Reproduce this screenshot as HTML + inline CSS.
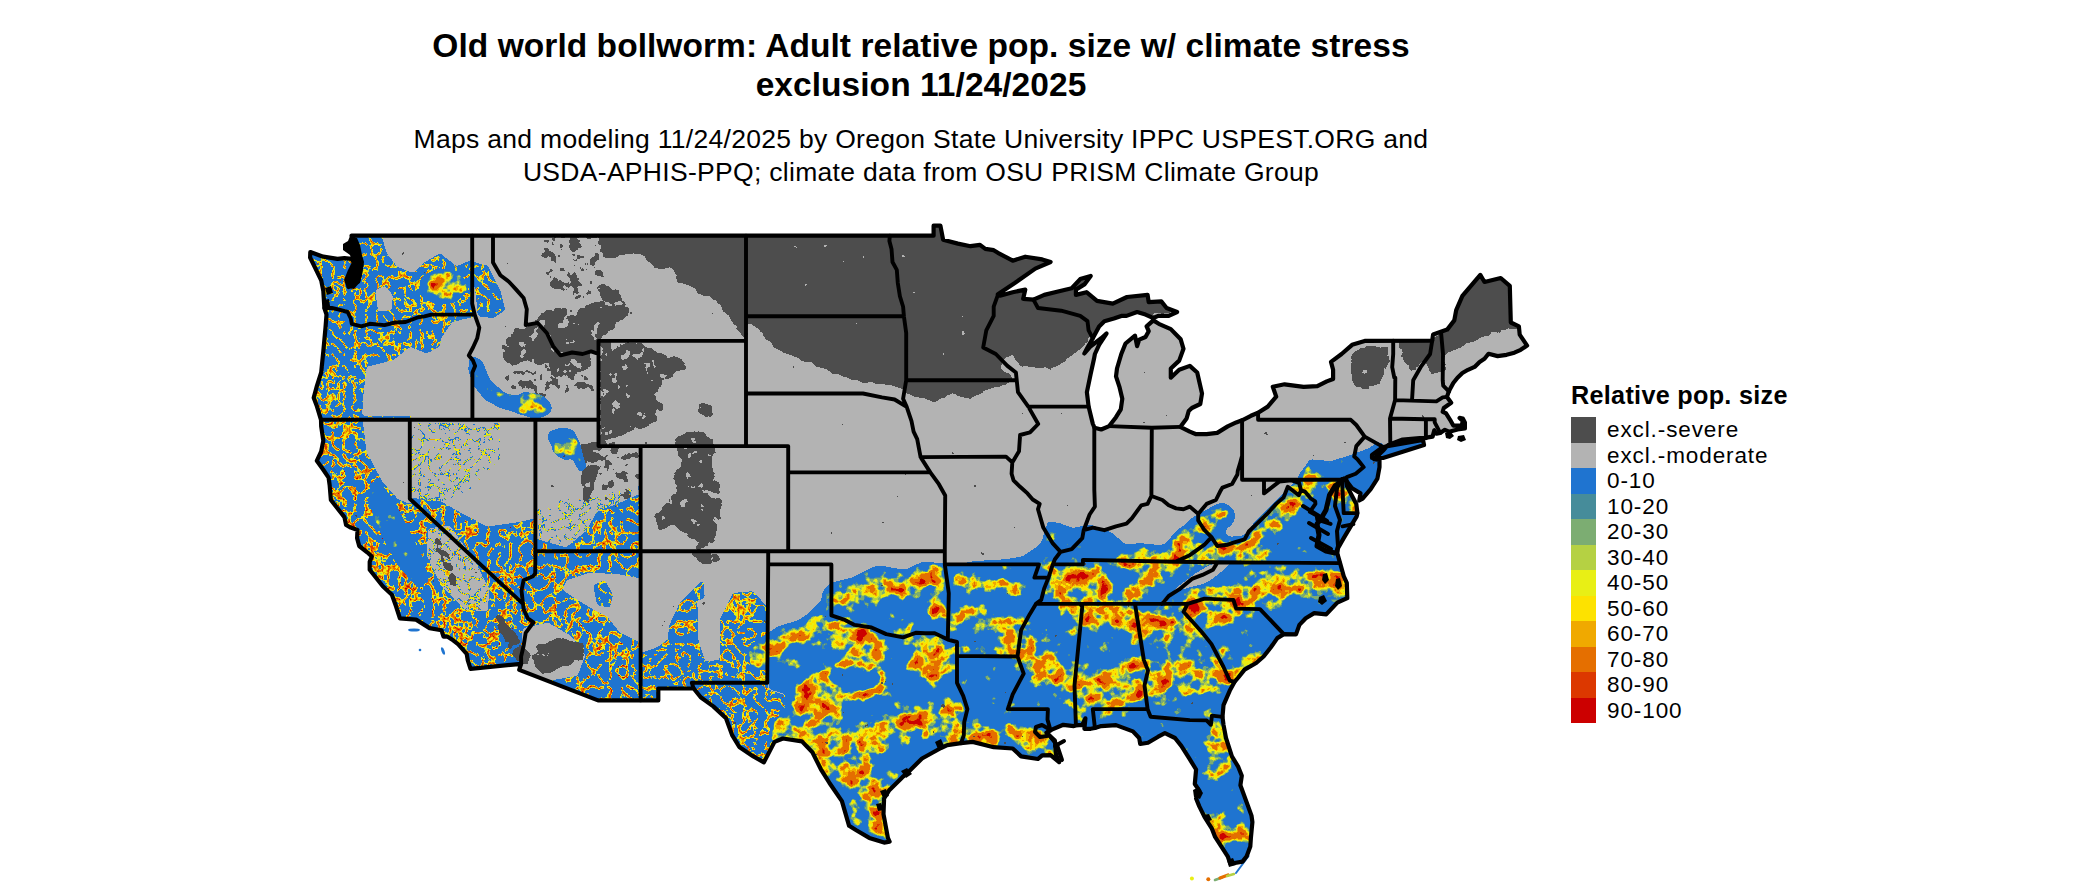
<!DOCTYPE html>
<html><head><meta charset="utf-8"><title>Old world bollworm</title>
<style>
html,body{margin:0;padding:0;background:#fff;}
body{width:2100px;height:892px;overflow:hidden;position:relative;font-family:"Liberation Sans",sans-serif;color:#000}
.t{position:absolute;left:121px;width:1600px;text-align:center;white-space:nowrap}
.t1{top:25.6px;font-size:33.5px;line-height:39.8px;font-weight:bold;letter-spacing:0.05px}
.t2{top:123.0px;font-size:26.5px;line-height:32.7px;letter-spacing:0.3px}
.lt{position:absolute;left:1607px;height:25.5px;line-height:25.5px;font-size:22.5px;letter-spacing:0.9px;white-space:nowrap}
.lh{position:absolute;left:1571px;top:379.5px;font-size:25.2px;line-height:30px;font-weight:bold;white-space:nowrap;letter-spacing:0.3px}
</style></head><body>
<div class="t t1">Old world bollworm: Adult relative pop. size w/ climate stress<br>exclusion 11/24/2025</div>
<div class="t t2">Maps and modeling 11/24/2025 by Oregon State University IPPC USPEST.ORG and<br>USDA-APHIS-PPQ; climate data from OSU PRISM Climate Group</div>
<svg width="2100" height="892" viewBox="0 0 2100 892" style="position:absolute;left:0;top:0">
<defs>
<clipPath id="land"><path d="M351.6,235.7 L933.6,235.7 L933.6,225.7 L940.4,225.7 L943.1,239.7 L957.9,243.6 L970.5,246.2 L980.0,244.9 L985.3,248.9 L993.7,250.2 L997.9,252.8 L1012.7,260.7 L1025.3,256.7 L1042.2,259.4 L1050.6,262.0 L1035.3,268.6 L1014.8,283.0 L997.9,294.3 L1000.0,295.7 L1012.7,292.2 L1025.3,289.6 L1023.2,298.8 L1033.4,299.6 L1044.3,294.9 L1057.0,291.7 L1071.7,288.3 L1080.2,279.1 L1090.7,275.9 L1084.4,284.4 L1075.9,289.6 L1075.9,294.9 L1086.5,292.2 L1097.0,300.9 L1112.8,303.6 L1127.0,297.0 L1147.6,294.9 L1148.7,302.2 L1161.3,301.4 L1166.6,308.0 L1177.1,312.0 L1168.7,315.9 L1158.2,315.9 L1153.3,318.0 L1145.5,314.6 L1137.1,312.0 L1126.5,315.9 L1121.3,315.9 L1113.9,318.5 L1104.4,321.2 L1099.1,326.4 L1092.8,338.3 L1087.5,347.5 L1084.4,353.5 L1090.7,346.2 L1101.2,338.3 L1106.5,333.5 L1099.1,344.8 L1094.9,354.0 L1093.9,359.3 L1090.7,373.8 L1086.9,392.2 L1088.6,406.6 L1092.8,423.7 L1094.5,427.7 L1101.2,429.5 L1109.2,426.1 L1116.0,417.2 L1120.8,409.3 L1122.3,398.7 L1119.6,387.4 L1116.0,376.4 L1117.0,368.5 L1121.3,354.0 L1125.5,343.5 L1135.0,335.6 L1137.1,346.2 L1139.2,339.6 L1145.5,337.0 L1148.7,331.2 L1146.6,326.4 L1153.3,320.4 L1158.8,323.8 L1170.8,329.1 L1180.7,339.3 L1183.5,348.8 L1179.2,360.6 L1170.8,368.5 L1170.8,377.7 L1179.2,369.8 L1189.8,365.9 L1197.2,372.5 L1202.0,393.5 L1200.3,404.0 L1191.9,408.0 L1188.7,411.1 L1186.6,418.5 L1180.3,426.9 L1189.8,431.6 L1196.1,434.2 L1206.6,434.2 L1217.2,432.9 L1227.7,426.4 L1236.2,422.4 L1242.1,420.3 L1250.9,415.8 L1258.1,412.7 L1267.8,406.6 L1276.2,396.6 L1272.8,386.7 L1284.6,384.3 L1303.6,386.9 L1317.3,386.1 L1326.8,381.4 L1333.1,379.0 L1333.1,369.8 L1331.0,361.9 L1341.6,354.0 L1352.1,344.8 L1364.7,340.9 L1432.2,340.6 L1433.1,334.6 L1447.2,329.6 L1454.3,320.4 L1456.2,310.1 L1462.4,295.9 L1480.3,274.9 L1484.5,282.0 L1500.7,278.0 L1509.8,285.9 L1510.8,322.5 L1518.9,326.4 L1519.7,334.6 L1527.1,345.6 L1520.7,349.8 L1514.4,352.7 L1506.6,354.8 L1497.6,356.1 L1488.5,353.8 L1484.5,358.8 L1479.6,361.9 L1474.6,366.9 L1468.0,369.8 L1462.4,373.0 L1457.5,377.7 L1453.3,383.0 L1448.7,391.6 L1447.0,396.9 L1451.2,402.7 L1443.8,408.0 L1442.7,411.9 L1445.9,413.2 L1450.1,419.8 L1453.3,425.6 L1461.7,425.6 L1462.8,421.1 L1459.6,417.9 L1462.8,418.5 L1464.9,422.4 L1464.9,428.5 L1457.5,429.5 L1450.1,431.6 L1450.1,432.1 L1444.9,429.8 L1440.2,432.9 L1436.4,433.7 L1434.3,430.3 L1432.6,436.6 L1424.6,437.9 L1419.6,438.2 L1402.7,439.5 L1392.2,443.5 L1386.9,446.1 L1383.7,450.0 L1379.5,454.0 L1374.2,459.2 L1379.5,460.0 L1379.5,467.1 L1377.4,478.7 L1370.7,489.2 L1362.6,498.7 L1359.3,500.5 L1360.5,493.4 L1352.1,488.2 L1347.9,482.9 L1345.8,479.0 L1346.8,485.5 L1350.0,492.1 L1356.3,503.9 L1357.4,513.1 L1356.7,516.3 L1350.4,526.8 L1343.7,538.1 L1338.0,548.1 L1337.3,553.1 L1337.8,555.2 L1340.1,563.1 L1343.7,576.0 L1346.8,582.8 L1347.3,598.1 L1337.3,602.6 L1326.2,614.4 L1314.2,613.1 L1305.7,618.3 L1299.4,624.9 L1296.0,634.4 L1283.8,634.1 L1277.3,638.1 L1270.9,647.3 L1263.6,656.5 L1256.2,663.0 L1244.6,669.6 L1238.3,677.5 L1234.5,682.0 L1229.8,690.6 L1223.5,705.1 L1222.5,716.9 L1223.5,724.8 L1226.0,738.0 L1231.9,756.4 L1238.3,766.9 L1241.8,775.8 L1240.4,785.3 L1246.7,802.4 L1251.5,815.6 L1252.4,822.1 L1250.9,837.9 L1250.3,846.6 L1246.7,856.3 L1242.5,861.6 L1230.3,863.7 L1227.7,856.3 L1215.1,836.9 L1211.9,828.7 L1204.5,816.9 L1199.3,806.4 L1196.1,798.5 L1199.3,790.6 L1194.8,784.0 L1196.1,769.5 L1189.1,758.2 L1181.3,745.9 L1175.0,738.0 L1164.9,733.2 L1158.2,736.7 L1148.0,742.7 L1140.2,744.0 L1139.2,738.0 L1132.9,731.4 L1116.0,725.1 L1101.2,726.1 L1094.9,728.0 L1090.7,728.8 L1084.4,728.8 L1085.4,718.3 L1082.3,724.8 L1075.9,725.4 L1073.8,726.1 L1063.3,724.8 L1050.6,730.1 L1046.4,732.7 L1054.9,740.6 L1055.9,753.8 L1059.1,762.2 L1050.6,755.1 L1042.2,755.3 L1038.0,759.0 L1021.1,756.4 L1012.7,748.5 L993.7,747.2 L972.6,741.9 L961.0,743.2 L947.3,745.1 L941.0,748.0 L922.0,758.5 L908.1,772.2 L902.2,777.4 L889.0,790.6 L884.1,798.5 L883.5,814.2 L887.9,837.9 L889.6,841.6 L884.1,842.6 L869.3,837.9 L856.7,830.5 L849.1,825.8 L841.9,801.1 L829.3,782.7 L820.9,769.3 L812.4,752.2 L801.9,741.4 L782.9,738.5 L774.5,741.9 L763.9,762.4 L753.4,756.4 L739.3,746.9 L732.3,735.4 L726.0,718.3 L713.3,706.4 L700.7,697.2 L693.7,688.5 L658.3,688.5 L658.3,700.4 L598.0,700.4 L519.2,669.9 L521.1,663.8 L470.5,668.8 L467.8,660.4 L466.7,653.8 L458.3,644.4 L451.9,639.4 L447.7,636.7 L443.5,636.7 L441.4,630.2 L429.6,628.1 L416.1,619.6 L399.9,618.3 L396.1,606.5 L391.9,594.7 L382.8,586.2 L369.7,569.7 L369.7,561.8 L371.8,556.5 L367.2,552.3 L359.2,546.0 L357.1,538.1 L357.5,530.0 L350.8,527.6 L346.1,525.0 L344.4,517.1 L330.9,500.0 L329.7,485.5 L328.6,477.6 L323.3,469.8 L316.8,460.8 L321.2,451.3 L323.3,440.8 L321.2,426.4 L321.0,419.8 L317.0,406.6 L313.7,397.7 L317.0,385.6 L321.2,372.5 L323.3,351.4 L325.5,327.7 L326.5,314.6 L324.4,308.0 L323.3,290.9 L321.2,280.4 L314.9,267.3 L310.1,257.5 L310.3,252.0 L319.1,255.2 L323.3,256.7 L337.5,258.8 L344.4,258.1 L351.6,258.8 L355.0,264.6 L357.1,272.5 L355.0,280.4 L348.6,287.0 L358.1,281.7 L360.2,272.5 L361.3,264.6 L357.1,254.1 L355.0,242.3Z M1372.0,455.0 L1383.0,447.0 L1423.0,440.0 L1424.0,445.0 L1383.0,458.0 L1372.0,458.0Z"/></clipPath>
<filter id="fw" x="0" y="0" width="2100" height="892" filterUnits="userSpaceOnUse" color-interpolation-filters="sRGB">
 <feGaussianBlur in="SourceGraphic" stdDeviation="1.4" result="b"/>
 <feColorMatrix in="b" type="matrix" values="0 0 0 0 0  0 0 0 0 0  0 0 0 0 0  1 0 0 0 0" result="ba"/>
 <feComponentTransfer in="ba" result="mask"><feFuncA type="discrete" tableValues="0 0 0 1 1 1 1 1 1 1 1 1 1 1 1 1 1 1 1 1"/></feComponentTransfer>
 <feTurbulence type="turbulence" baseFrequency="0.09" numOctaves="2" seed="3" result="n"/>
 <feColorMatrix in="n" type="matrix" values="-1 0 0 0 1  -1 0 0 0 1  -1 0 0 0 1  0 0 0 0 1" result="n1"/>
 <feComposite in="b" in2="n1" operator="arithmetic" k1="0" k2="1" k3="2.2" k4="-1.6500000000000001" result="s"/>
 <feColorMatrix in="s" type="matrix" values="1 0 0 0 0  1 0 0 0 0  1 0 0 0 0  0 0 0 0 1" result="s2"/>
 <feComponentTransfer in="s2" result="c">
  <feFuncR type="discrete" tableValues="0.122 0.122 0.122 0.122 0.122 0.122 0.122 0.122 0.122 0.122 0.122 0.122 0.122 0.122 0.122 0.122 0.122 0.122 0.122 0.122 0.122 0.122 0.122 0.122 0.122 0.122 0.122 0.122 0.122 0.122 0.122 0.122 0.122 0.122 0.122 0.122 0.122 0.122 0.122 0.122 0.122 0.122 0.710 0.710 0.710 0.910 0.910 0.910 0.910 0.910 0.992 0.992 0.992 0.992 0.941 0.941 0.941 0.941 0.941 0.898 0.898 0.898 0.898 0.898 0.898 0.898 0.898 0.863 0.863 0.863 0.863 0.863 0.863 0.863 0.800 0.800 0.800 0.800 0.800 0.800"/>
  <feFuncG type="discrete" tableValues="0.455 0.455 0.455 0.455 0.455 0.455 0.455 0.455 0.455 0.455 0.455 0.455 0.455 0.455 0.455 0.455 0.455 0.455 0.455 0.455 0.455 0.455 0.455 0.455 0.455 0.455 0.455 0.455 0.455 0.455 0.455 0.455 0.455 0.455 0.455 0.455 0.455 0.455 0.455 0.455 0.455 0.455 0.820 0.820 0.820 0.937 0.937 0.937 0.937 0.937 0.886 0.886 0.886 0.886 0.663 0.663 0.663 0.663 0.663 0.435 0.435 0.435 0.435 0.435 0.435 0.435 0.435 0.220 0.220 0.220 0.220 0.220 0.220 0.220 0.000 0.000 0.000 0.000 0.000 0.000"/>
  <feFuncB type="discrete" tableValues="0.816 0.816 0.816 0.816 0.816 0.816 0.816 0.816 0.816 0.816 0.816 0.816 0.816 0.816 0.816 0.816 0.816 0.816 0.816 0.816 0.816 0.816 0.816 0.816 0.816 0.816 0.816 0.816 0.816 0.816 0.816 0.816 0.816 0.816 0.816 0.816 0.816 0.816 0.816 0.816 0.816 0.816 0.263 0.263 0.263 0.082 0.082 0.082 0.082 0.082 0.000 0.000 0.000 0.000 0.000 0.000 0.000 0.000 0.000 0.000 0.000 0.000 0.000 0.000 0.000 0.000 0.000 0.000 0.000 0.000 0.000 0.000 0.000 0.000 0.000 0.000 0.000 0.000 0.000 0.000"/>
 </feComponentTransfer>
 <feComposite in="c" in2="mask" operator="in"/>
</filter><filter id="fsp" x="0" y="0" width="2100" height="892" filterUnits="userSpaceOnUse" color-interpolation-filters="sRGB">
 <feGaussianBlur in="SourceGraphic" stdDeviation="1.4" result="b"/>
 <feTurbulence type="turbulence" baseFrequency="0.1" numOctaves="2" seed="8" result="n"/>
 <feColorMatrix in="n" type="matrix" values="-1 0 0 0 1  -1 0 0 0 1  -1 0 0 0 1  0 0 0 0 1" result="n1"/>
 <feComposite in="b" in2="n1" operator="arithmetic" k1="0" k2="1" k3="2.2" k4="-1.6500000000000001" result="s"/>
 <feColorMatrix in="s" type="matrix" values="1 0 0 0 0  1 0 0 0 0  1 0 0 0 0  1 0 0 0 0" result="s2"/>
 <feComponentTransfer in="s2" result="c">
  <feFuncR type="discrete" tableValues="0.122 0.122 0.122 0.122 0.122 0.122 0.122 0.122 0.122 0.122 0.122 0.122 0.122 0.122 0.122 0.122 0.122 0.122 0.122 0.122 0.122 0.122 0.122 0.122 0.122 0.122 0.122 0.122 0.122 0.122 0.122 0.122 0.122 0.122 0.122 0.122 0.122 0.122 0.122 0.122 0.122 0.122 0.710 0.710 0.710 0.910 0.910 0.910 0.910 0.910 0.992 0.992 0.992 0.992 0.941 0.941 0.941 0.941 0.941 0.898 0.898 0.898 0.898 0.898 0.898 0.898 0.898 0.863 0.863 0.863 0.863 0.863 0.863 0.863 0.800 0.800 0.800 0.800 0.800 0.800"/>
  <feFuncG type="discrete" tableValues="0.455 0.455 0.455 0.455 0.455 0.455 0.455 0.455 0.455 0.455 0.455 0.455 0.455 0.455 0.455 0.455 0.455 0.455 0.455 0.455 0.455 0.455 0.455 0.455 0.455 0.455 0.455 0.455 0.455 0.455 0.455 0.455 0.455 0.455 0.455 0.455 0.455 0.455 0.455 0.455 0.455 0.455 0.820 0.820 0.820 0.937 0.937 0.937 0.937 0.937 0.886 0.886 0.886 0.886 0.663 0.663 0.663 0.663 0.663 0.435 0.435 0.435 0.435 0.435 0.435 0.435 0.435 0.220 0.220 0.220 0.220 0.220 0.220 0.220 0.000 0.000 0.000 0.000 0.000 0.000"/>
  <feFuncB type="discrete" tableValues="0.816 0.816 0.816 0.816 0.816 0.816 0.816 0.816 0.816 0.816 0.816 0.816 0.816 0.816 0.816 0.816 0.816 0.816 0.816 0.816 0.816 0.816 0.816 0.816 0.816 0.816 0.816 0.816 0.816 0.816 0.816 0.816 0.816 0.816 0.816 0.816 0.816 0.816 0.816 0.816 0.816 0.816 0.263 0.263 0.263 0.082 0.082 0.082 0.082 0.082 0.000 0.000 0.000 0.000 0.000 0.000 0.000 0.000 0.000 0.000 0.000 0.000 0.000 0.000 0.000 0.000 0.000 0.000 0.000 0.000 0.000 0.000 0.000 0.000 0.000 0.000 0.000 0.000 0.000 0.000"/>
  <feFuncA type="discrete" tableValues="0 0 0 0 0 0 0 0 0 0 0 0 0 0 0 0 0 1 1 1 1 1 1 1 1 1 1 1 1 1 1 1 1 1 1 1 1 1 1 1"/>
 </feComponentTransfer>
 <feColorMatrix in="b" type="matrix" values="0 0 0 0 0  0 0 0 0 0  0 0 0 0 0  1 0 0 0 0" result="ba"/>
 <feComponentTransfer in="ba" result="mask"><feFuncA type="discrete" tableValues="0 0 1 1 1 1 1 1 1 1 1 1 1 1 1 1 1 1 1 1"/></feComponentTransfer>
 <feComposite in="c" in2="mask" operator="in"/>
</filter><filter id="fs" x="0" y="0" width="2100" height="892" filterUnits="userSpaceOnUse" color-interpolation-filters="sRGB">
 <feGaussianBlur in="SourceGraphic" stdDeviation="2.2" result="b"/>
 <feColorMatrix in="b" type="matrix" values="0 0 0 0 0  0 0 0 0 0  0 0 0 0 0  1 0 0 0 0" result="ba"/>
 <feComponentTransfer in="ba" result="mask"><feFuncA type="discrete" tableValues="0 0 0 1 1 1 1 1 1 1 1 1 1 1 1 1 1 1 1 1"/></feComponentTransfer>
 <feTurbulence type="fractalNoise" baseFrequency="0.07" numOctaves="3" seed="11" result="n"/>
 <feColorMatrix in="n" type="matrix" values="1 0 0 0 0  1 0 0 0 0  1 0 0 0 0  0 0 0 0 1" result="n1"/>
 <feComposite in="b" in2="n1" operator="arithmetic" k1="0" k2="1" k3="1.2" k4="-0.6" result="s"/>
 <feColorMatrix in="s" type="matrix" values="1 0 0 0 0  1 0 0 0 0  1 0 0 0 0  0 0 0 0 1" result="s2"/>
 <feComponentTransfer in="s2" result="c">
  <feFuncR type="discrete" tableValues="0.122 0.122 0.122 0.122 0.122 0.122 0.122 0.122 0.122 0.122 0.122 0.122 0.122 0.122 0.122 0.122 0.122 0.122 0.122 0.122 0.122 0.122 0.122 0.122 0.122 0.122 0.122 0.122 0.122 0.122 0.122 0.122 0.122 0.122 0.122 0.122 0.122 0.122 0.122 0.275 0.275 0.275 0.486 0.486 0.486 0.486 0.710 0.710 0.710 0.910 0.910 0.910 0.910 0.992 0.992 0.992 0.992 0.941 0.941 0.941 0.941 0.898 0.898 0.898 0.898 0.898 0.898 0.898 0.898 0.898 0.898 0.898 0.898 0.898 0.898 0.898 0.863 0.863 0.863 0.800"/>
  <feFuncG type="discrete" tableValues="0.455 0.455 0.455 0.455 0.455 0.455 0.455 0.455 0.455 0.455 0.455 0.455 0.455 0.455 0.455 0.455 0.455 0.455 0.455 0.455 0.455 0.455 0.455 0.455 0.455 0.455 0.455 0.455 0.455 0.455 0.455 0.455 0.455 0.455 0.455 0.455 0.455 0.455 0.455 0.549 0.549 0.549 0.678 0.678 0.678 0.678 0.820 0.820 0.820 0.937 0.937 0.937 0.937 0.886 0.886 0.886 0.886 0.663 0.663 0.663 0.663 0.435 0.435 0.435 0.435 0.435 0.435 0.435 0.435 0.435 0.435 0.435 0.435 0.435 0.435 0.435 0.220 0.220 0.220 0.000"/>
  <feFuncB type="discrete" tableValues="0.816 0.816 0.816 0.816 0.816 0.816 0.816 0.816 0.816 0.816 0.816 0.816 0.816 0.816 0.816 0.816 0.816 0.816 0.816 0.816 0.816 0.816 0.816 0.816 0.816 0.816 0.816 0.816 0.816 0.816 0.816 0.816 0.816 0.816 0.816 0.816 0.816 0.816 0.816 0.604 0.604 0.604 0.447 0.447 0.447 0.447 0.263 0.263 0.263 0.082 0.082 0.082 0.082 0.000 0.000 0.000 0.000 0.000 0.000 0.000 0.000 0.000 0.000 0.000 0.000 0.000 0.000 0.000 0.000 0.000 0.000 0.000 0.000 0.000 0.000 0.000 0.000 0.000 0.000 0.000"/>
 </feComponentTransfer>
 <feComposite in="c" in2="mask" operator="in"/>
</filter><filter id="fd" x="0" y="0" width="2100" height="892" filterUnits="userSpaceOnUse" color-interpolation-filters="sRGB">
 <feGaussianBlur in="SourceGraphic" stdDeviation="1.5" result="b"/>
 <feTurbulence type="fractalNoise" baseFrequency="0.1" numOctaves="3" seed="5" result="n"/>
 <feColorMatrix in="n" type="matrix" values="1 0 0 0 0  1 0 0 0 0  1 0 0 0 0  0 0 0 0 1" result="n1"/>
 <feComposite in="b" in2="n1" operator="arithmetic" k1="0" k2="1" k3="1.4" k4="-0.7" result="s"/>
 <feColorMatrix in="s" type="matrix" values="0 0 0 0 0.302  0 0 0 0 0.302  0 0 0 0 0.302  1 0 0 0 0" result="s2"/>
 <feComponentTransfer in="s2"><feFuncA type="discrete" tableValues="0 0 0 0 0 0 0 0 0 0 1 1 1 1 1 1 1 1 1 1"/></feComponentTransfer>
</filter>
</defs>
<g clip-path="url(#land)">
 <rect x="0" y="0" width="2100" height="892" fill="#b3b3b3"/>
 <g filter="url(#fd)"><rect x="0" y="0" width="2100" height="892" fill="#000"/><path d="M540.0,200.0 L561.0,237.0 L578.0,257.0 L598.0,259.0 L613.0,257.0 L630.0,252.0 L645.0,257.0 L657.0,269.0 L672.0,267.0 L677.0,282.0 L687.0,284.0 L701.0,294.0 L711.0,297.0 L719.0,306.0 L729.0,316.0 L736.0,328.0 L745.0,338.0 L748.0,322.0 L760.0,330.0 L773.0,347.0 L793.0,357.0 L810.0,363.0 L827.0,370.0 L847.0,378.0 L867.0,383.0 L887.0,383.0 L903.0,390.0 L917.0,397.0 L933.0,402.0 L953.0,393.0 L967.0,400.0 L983.0,390.0 L1000.0,387.0 L1015.0,380.0 L1000.0,367.0 L1005.0,360.0 L1013.0,353.0 L1020.0,367.0 L1033.0,367.0 L1053.0,370.0 L1067.0,360.0 L1083.0,347.0 L1090.0,337.0 L1110.0,318.0 L1140.0,316.0 L1180.0,312.0 L1180.0,200.0Z" fill="rgb(255,255,255)"/><path d="M1520.0,327.0 L1503.0,330.0 L1483.0,337.0 L1460.0,347.0 L1443.0,357.0 L1446.0,370.0 L1432.0,375.0 L1425.0,362.0 L1428.0,345.0 L1440.0,335.0 L1450.0,260.0 L1540.0,260.0 L1540.0,320.0Z" fill="rgb(255,255,255)"/><path d="M1398.0,340.0 L1430.0,340.0 L1425.0,360.0 L1412.0,372.0 L1404.0,365.0 L1400.0,352.0Z" fill="rgb(217,217,217)"/><path d="M1352.0,352.0 L1368.0,345.0 L1388.0,347.0 L1390.0,360.0 L1382.0,380.0 L1368.0,390.0 L1355.0,385.0 L1350.0,368.0Z" fill="rgb(217,217,217)"/><path d="M499.9,346.6 L509.9,330.0 L526.5,326.6 L539.8,316.6 L553.2,306.6 L573.2,310.0 L593.1,303.3 L619.8,296.6 L633.1,313.3 L616.5,326.6 L599.8,339.9 L593.1,353.2 L589.8,366.6 L579.8,379.9 L559.8,373.2 L553.2,383.2 L539.8,366.6 L526.5,359.9 L513.2,366.6 L503.2,359.9Z" fill="rgb(184,184,184)"/><path d="M593.0,292.0 L605.0,285.0 L620.0,290.0 L622.0,302.0 L605.0,304.0Z" fill="rgb(184,184,184)"/><path d="M599.6,341.2 L636.1,342.6 L650.1,346.8 L664.1,355.2 L683.7,358.0 L686.5,369.2 L672.5,374.8 L664.1,386.1 L652.9,394.5 L664.1,405.7 L655.7,422.5 L636.1,430.9 L622.0,436.5 L599.6,442.1Z" fill="rgb(184,184,184)"/><path d="M697.0,403.0 L712.0,400.0 L715.0,415.0 L705.0,420.0 L697.0,412.0Z" fill="rgb(184,184,184)"/><path d="M582.0,445.0 L600.0,440.0 L630.0,445.0 L640.0,450.0 L640.0,462.0 L615.0,465.0 L598.0,470.0 L592.0,500.0 L585.0,505.0 L580.0,480.0Z" fill="rgb(184,184,184)"/><path d="M672.5,433.7 L703.3,430.9 L714.5,442.1 L714.5,470.1 L722.9,498.2 L720.1,520.6 L714.5,543.0 L697.7,551.4 L689.3,537.4 L672.5,526.2 L658.5,531.8 L655.7,515.0 L669.7,498.2 L672.5,475.7 L680.9,458.9 L675.3,447.7Z" fill="rgb(184,184,184)"/><path d="M690.0,551.0 L715.0,551.0 L722.0,560.0 L710.0,565.0 L695.0,562.0Z" fill="rgb(184,184,184)"/><path d="M540.0,237.0 L600.0,237.0 L610.0,280.0 L590.0,300.0 L560.0,300.0 L545.0,280.0Z" fill="rgb(102,102,102)"/><path d="M503.0,370.0 L590.0,370.0 L595.0,398.0 L505.0,398.0Z" fill="rgb(97,97,97)"/><path d="M600.0,445.0 L640.0,445.0 L640.0,500.0 L600.0,500.0Z" fill="rgb(92,92,92)"/></g>
 <g filter="url(#fsp)"><rect x="0" y="0" width="2100" height="892" fill="#000"/><path d="M409.0,423.0 L500.0,423.0 L500.0,460.0 L470.0,490.0 L441.0,502.0 L409.0,498.0Z" fill="rgb(48,48,48)"/><path d="M535.0,510.0 L560.0,500.0 L600.0,495.0 L641.0,485.0 L641.0,494.0 L618.0,504.0 L597.0,512.0 L587.0,531.0 L566.0,548.0 L535.0,539.0Z" fill="rgb(43,43,43)"/><path d="M428.0,528.0 L450.0,525.0 L475.0,560.0 L490.0,590.0 L488.0,612.0 L465.0,610.0 L440.0,585.0 L426.0,555.0Z" fill="rgb(61,61,61)"/></g><g filter="url(#fw)"><rect x="0" y="0" width="2100" height="892" fill="#000"/><path d="M290.0,416.0 L412.0,416.0 L412.0,470.0 L409.0,498.0 L441.0,502.0 L462.0,514.0 L487.0,527.0 L516.0,523.0 L535.0,519.0 L535.0,539.0 L566.0,548.0 L587.0,531.0 L597.0,512.0 L618.0,504.0 L641.0,494.0 L641.0,702.0 L470.0,702.0 L290.0,640.0Z" fill="rgb(102,102,102)"/><path d="M362.0,418.0 L412.0,418.0 L412.0,505.0 L398.0,500.0 L382.0,482.0 L366.0,452.0Z" fill="rgb(0,0,0)"/><path d="M566.0,580.0 L590.0,572.0 L620.0,574.0 L641.0,578.0 L641.0,643.2 L619.9,633.3 L606.5,616.6 L593.2,610.0 L576.6,600.0 L562.0,590.0Z" fill="rgb(0,0,0)"/><path d="M593.0,585.0 L605.0,580.0 L613.0,595.0 L610.0,608.0 L597.0,605.0Z" fill="rgb(76,76,76)"/><path d="M522.0,628.0 L548.0,622.0 L572.0,636.0 L586.0,655.0 L578.0,676.0 L545.0,682.0 L522.0,672.0Z" fill="rgb(0,0,0)"/><path d="M641.5,653.3 L659.8,646.6 L679.8,603.3 L703.2,580.0 L706.5,630.0 L719.8,620.0 L733.1,593.3 L753.1,591.6 L766.4,606.6 L768.0,690.0 L641.0,702.0Z" fill="rgb(92,92,92)"/><path d="M697.0,600.0 L710.0,597.0 L720.0,610.0 L720.0,660.0 L705.0,662.0 L698.0,640.0Z" fill="rgb(0,0,0)"/><path d="M644.0,600.0 L672.0,600.0 L668.0,640.0 L655.0,648.0 L644.0,652.0Z" fill="rgb(0,0,0)"/><path d="M428.0,528.0 L450.0,525.0 L475.0,560.0 L490.0,590.0 L488.0,612.0 L465.0,610.0 L440.0,585.0 L426.0,555.0Z" fill="rgb(0,0,0)"/><path d="M290.0,225.0 L473.0,225.0 L473.0,318.0 L290.0,318.0Z" fill="rgb(84,84,84)"/><path d="M381.6,236.7 L471.6,236.7 L471.6,260.0 L456.6,266.6 L439.9,253.3 L423.3,263.3 L413.3,273.3 L396.6,266.6 L386.6,253.3Z" fill="rgb(0,0,0)"/><path d="M375.0,290.0 L385.0,286.0 L393.0,295.0 L392.0,310.0 L378.0,312.0Z" fill="rgb(0,0,0)"/><path d="M290.0,316.6 L473.2,316.6 L452.0,322.0 L441.0,338.0 L439.9,346.6 L426.6,353.2 L409.9,346.6 L393.3,359.9 L379.9,363.2 L366.6,366.6 L363.3,393.2 L361.6,419.9 L290.0,419.9Z" fill="rgb(87,87,87)"/><path d="M473.0,262.0 L488.0,266.0 L500.0,290.0 L505.0,310.0 L493.0,318.0 L478.0,316.0Z" fill="rgb(87,87,87)"/><path d="M693.0,683.0 L768.0,690.0 L800.0,700.0 L810.0,760.0 L770.0,770.0 L730.0,740.0Z" fill="rgb(92,92,92)"/></g><g filter="url(#fs)"><rect x="0" y="0" width="2100" height="892" fill="#000"/><path d="M766.4,633.3 L786.5,629.9 L803.2,616.6 L816.5,603.2 L833.1,593.2 L846.5,583.2 L859.8,573.3 L873.1,568.3 L893.1,568.3 L906.4,569.9 L923.1,566.6 L946.4,566.6 L973.0,560.0 L1007.0,558.0 L1023.0,555.0 L1040.0,543.0 L1047.0,520.0 L1060.0,522.0 L1073.0,527.0 L1090.0,523.0 L1113.0,532.0 L1125.0,543.0 L1142.0,542.0 L1164.0,546.0 L1178.0,529.0 L1209.0,520.0 L1224.0,518.0 L1229.0,540.0 L1231.0,553.0 L1244.0,536.0 L1262.0,524.0 L1280.0,509.0 L1295.0,493.0 L1298.0,476.0 L1309.0,458.0 L1331.0,460.0 L1353.0,453.0 L1369.0,447.0 L1378.0,440.0 L1386.0,445.0 L1400.0,441.0 L1423.0,438.0 L1445.0,435.0 L1470.0,433.0 L1540.0,430.0 L1540.0,900.0 L830.0,900.0 L810.0,760.0 L800.0,700.0 L768.0,690.0Z" fill="rgb(56,56,56)"/><path d="M1160.0,603.0 L1175.0,590.0 L1195.0,575.0 L1213.0,564.0 L1231.0,553.0 L1236.0,556.0 L1222.0,570.0 L1205.0,583.0 L1185.0,597.0 L1168.0,607.0Z" fill="rgb(0,0,0)"/><path d="M470.0,355.0 L482.0,360.0 L490.0,380.0 L505.0,393.0 L525.0,398.0 L545.0,405.0 L545.0,412.0 L520.0,414.0 L500.0,408.0 L485.0,400.0 L473.0,385.0 L468.0,370.0Z" fill="rgb(76,76,76)"/><path d="M548.0,432.0 L562.0,427.0 L573.0,430.0 L580.0,445.0 L587.0,468.0 L580.0,473.0 L570.0,455.0 L555.0,450.0 L548.0,440.0Z" fill="rgb(76,76,76)"/><path d="M368.0,482.0 L380.0,480.0 L395.0,500.0 L410.0,530.0 L425.0,560.0 L430.0,583.0 L416.0,588.0 L396.0,565.0 L380.0,535.0 L370.0,510.0Z" fill="rgb(56,56,56)"/><path d="M1310.0,478.0 L1330.0,485.0 L1345.0,500.0" fill="none" stroke="rgb(117,117,117)" stroke-width="17.6" stroke-linecap="round" stroke-linejoin="round"/><path d="M1345.0,490.0 L1352.0,510.0" fill="none" stroke="rgb(117,117,117)" stroke-width="15.4" stroke-linecap="round" stroke-linejoin="round"/><path d="M838.0,598.0 L862.0,592.0 L880.0,582.0 L906.0,588.0 L926.0,578.0 L943.0,580.0" fill="none" stroke="rgb(117,117,117)" stroke-width="30.8" stroke-linecap="round" stroke-linejoin="round"/><path d="M933.2,610.0 L956.5,620.0 L979.8,613.3" fill="none" stroke="rgb(117,117,117)" stroke-width="26.4" stroke-linecap="round" stroke-linejoin="round"/><path d="M956.5,580.0 L1013.0,586.6" fill="none" stroke="rgb(117,117,117)" stroke-width="19.8" stroke-linecap="round" stroke-linejoin="round"/><path d="M993.0,626.6 L1013.0,640.0 L1013.0,653.3" fill="none" stroke="rgb(117,117,117)" stroke-width="26.4" stroke-linecap="round" stroke-linejoin="round"/><path d="M762.0,655.0 L785.0,640.0 L810.0,633.0 L835.0,630.0 L860.0,640.0 L880.0,650.0" fill="none" stroke="rgb(117,117,117)" stroke-width="28.6" stroke-linecap="round" stroke-linejoin="round"/><path d="M790.0,733.0 L830.0,750.0 L863.0,740.0 L893.0,726.5 L920.0,720.0 L946.5,716.6 L960.0,740.0" fill="none" stroke="rgb(117,117,117)" stroke-width="39.6" stroke-linecap="round" stroke-linejoin="round"/><path d="M826.6,770.0 L846.5,773.3 L866.5,780.0 L873.2,800.0 L876.5,823.3" fill="none" stroke="rgb(117,117,117)" stroke-width="46.2" stroke-linecap="round" stroke-linejoin="round"/><path d="M1130.0,600.0 L1150.0,575.0 L1175.0,563.0" fill="none" stroke="rgb(117,117,117)" stroke-width="26.4" stroke-linecap="round" stroke-linejoin="round"/><path d="M1080.0,612.0 L1110.0,615.0 L1140.0,622.0 L1170.0,630.0 L1186.0,625.0" fill="none" stroke="rgb(117,117,117)" stroke-width="46.2" stroke-linecap="round" stroke-linejoin="round"/><path d="M1186.0,610.0 L1205.0,605.0 L1233.0,610.0" fill="none" stroke="rgb(117,117,117)" stroke-width="39.6" stroke-linecap="round" stroke-linejoin="round"/><path d="M1225.0,603.0 L1250.0,595.0 L1272.0,586.0 L1302.0,582.0 L1332.0,580.0 L1346.0,585.0" fill="none" stroke="rgb(117,117,117)" stroke-width="39.6" stroke-linecap="round" stroke-linejoin="round"/><path d="M1015.0,640.0 L1040.0,660.0 L1065.0,680.0 L1090.0,693.0 L1120.0,695.0 L1150.0,685.0 L1180.0,675.0 L1210.0,667.0 L1230.0,675.0" fill="none" stroke="rgb(117,117,117)" stroke-width="46.2" stroke-linecap="round" stroke-linejoin="round"/><path d="M1216.0,725.0 L1220.0,745.0 L1222.0,770.0" fill="none" stroke="rgb(117,117,117)" stroke-width="28.6" stroke-linecap="round" stroke-linejoin="round"/><path d="M1209.0,820.0 L1222.0,836.0 L1240.0,834.0 L1248.0,820.0" fill="none" stroke="rgb(117,117,117)" stroke-width="26.4" stroke-linecap="round" stroke-linejoin="round"/><path d="M1218.0,728.0 L1226.0,738.0" fill="none" stroke="rgb(117,117,117)" stroke-width="17.6" stroke-linecap="round" stroke-linejoin="round"/><path d="M1097.0,680.0 L1115.0,672.0 L1139.0,664.0" fill="none" stroke="rgb(117,117,117)" stroke-width="22.0" stroke-linecap="round" stroke-linejoin="round"/><path d="M1246.0,660.0 L1258.0,656.0" fill="none" stroke="rgb(117,117,117)" stroke-width="15.4" stroke-linecap="round" stroke-linejoin="round"/><path d="M962.0,742.0 L975.0,737.0 L990.0,740.0" fill="none" stroke="rgb(117,117,117)" stroke-width="26.4" stroke-linecap="round" stroke-linejoin="round"/><path d="M1015.0,728.0 L1030.0,738.0 L1045.0,748.0 L1055.0,755.0" fill="none" stroke="rgb(117,117,117)" stroke-width="26.4" stroke-linecap="round" stroke-linejoin="round"/><path d="M1127.0,562.0 L1170.0,556.0 L1220.0,550.0 L1258.0,546.0" fill="none" stroke="rgb(117,117,117)" stroke-width="22.0" stroke-linecap="round" stroke-linejoin="round"/><path d="M1248.0,560.0 L1265.0,548.0" fill="none" stroke="rgb(117,117,117)" stroke-width="19.8" stroke-linecap="round" stroke-linejoin="round"/><path d="M1245.0,556.0 L1265.0,528.0 L1285.0,508.0 L1310.0,484.0" fill="none" stroke="rgb(117,117,117)" stroke-width="22.0" stroke-linecap="round" stroke-linejoin="round"/><path d="M1170.0,558.0 L1185.0,542.0 L1200.0,528.0 L1222.0,516.0" fill="none" stroke="rgb(117,117,117)" stroke-width="24.2" stroke-linecap="round" stroke-linejoin="round"/><path d="M835.0,632.0 L850.0,626.0 L870.0,630.0 L885.0,645.0 L878.0,660.0 L855.0,658.0 L838.0,648.0Z" fill="rgb(117,117,117)" stroke="rgb(117,117,117)" stroke-width="14" stroke-linejoin="round"/><path d="M525.0,400.0 L538.0,402.0 L544.0,408.0 L535.0,411.0 L524.0,407.0Z" fill="rgb(117,117,117)" stroke="rgb(117,117,117)" stroke-width="14" stroke-linejoin="round"/><path d="M561.0,440.0 L568.0,438.0 L572.0,446.0 L566.0,452.0 L560.0,448.0Z" fill="rgb(117,117,117)" stroke="rgb(117,117,117)" stroke-width="14" stroke-linejoin="round"/><path d="M428.0,282.0 L440.0,276.0 L455.0,279.0 L460.0,288.0 L452.0,295.0 L436.0,296.0 L427.0,291.0Z" fill="rgb(117,117,117)" stroke="rgb(117,117,117)" stroke-width="14" stroke-linejoin="round"/><path d="M910.0,645.0 L935.0,640.0 L952.0,650.0 L953.0,675.0 L935.0,680.0 L915.0,670.0Z" fill="rgb(117,117,117)" stroke="rgb(117,117,117)" stroke-width="14" stroke-linejoin="round"/><path d="M795.0,685.0 L815.0,680.0 L835.0,690.0 L842.0,710.0 L830.0,726.0 L805.0,727.0 L793.0,710.0Z" fill="rgb(117,117,117)" stroke="rgb(117,117,117)" stroke-width="14" stroke-linejoin="round"/><path d="M1050.0,570.0 L1075.0,563.0 L1100.0,567.0 L1113.0,580.0 L1105.0,600.0 L1080.0,603.0 L1055.0,597.0Z" fill="rgb(117,117,117)" stroke="rgb(117,117,117)" stroke-width="14" stroke-linejoin="round"/><path d="M835.0,632.0 L850.0,626.0 L870.0,630.0 L885.0,645.0 L878.0,660.0 L855.0,658.0 L838.0,648.0Z" fill="rgb(186,186,186)"/><path d="M525.0,400.0 L538.0,402.0 L544.0,408.0 L535.0,411.0 L524.0,407.0Z" fill="rgb(186,186,186)"/><path d="M561.0,440.0 L568.0,438.0 L572.0,446.0 L566.0,452.0 L560.0,448.0Z" fill="rgb(186,186,186)"/><path d="M428.0,282.0 L440.0,276.0 L455.0,279.0 L460.0,288.0 L452.0,295.0 L436.0,296.0 L427.0,291.0Z" fill="rgb(186,186,186)"/><path d="M910.0,645.0 L935.0,640.0 L952.0,650.0 L953.0,675.0 L935.0,680.0 L915.0,670.0Z" fill="rgb(186,186,186)"/><path d="M795.0,685.0 L815.0,680.0 L835.0,690.0 L842.0,710.0 L830.0,726.0 L805.0,727.0 L793.0,710.0Z" fill="rgb(186,186,186)"/><path d="M1050.0,570.0 L1075.0,563.0 L1100.0,567.0 L1113.0,580.0 L1105.0,600.0 L1080.0,603.0 L1055.0,597.0Z" fill="rgb(186,186,186)"/><path d="M1310.0,478.0 L1330.0,485.0 L1345.0,500.0" fill="none" stroke="rgb(186,186,186)" stroke-width="8" stroke-linecap="round" stroke-linejoin="round"/><path d="M1345.0,490.0 L1352.0,510.0" fill="none" stroke="rgb(186,186,186)" stroke-width="7" stroke-linecap="round" stroke-linejoin="round"/><path d="M838.0,598.0 L862.0,592.0 L880.0,582.0 L906.0,588.0 L926.0,578.0 L943.0,580.0" fill="none" stroke="rgb(186,186,186)" stroke-width="14" stroke-linecap="round" stroke-linejoin="round"/><path d="M933.2,610.0 L956.5,620.0 L979.8,613.3" fill="none" stroke="rgb(186,186,186)" stroke-width="12" stroke-linecap="round" stroke-linejoin="round"/><path d="M956.5,580.0 L1013.0,586.6" fill="none" stroke="rgb(186,186,186)" stroke-width="9" stroke-linecap="round" stroke-linejoin="round"/><path d="M993.0,626.6 L1013.0,640.0 L1013.0,653.3" fill="none" stroke="rgb(186,186,186)" stroke-width="12" stroke-linecap="round" stroke-linejoin="round"/><path d="M762.0,655.0 L785.0,640.0 L810.0,633.0 L835.0,630.0 L860.0,640.0 L880.0,650.0" fill="none" stroke="rgb(186,186,186)" stroke-width="13" stroke-linecap="round" stroke-linejoin="round"/><path d="M790.0,733.0 L830.0,750.0 L863.0,740.0 L893.0,726.5 L920.0,720.0 L946.5,716.6 L960.0,740.0" fill="none" stroke="rgb(186,186,186)" stroke-width="18" stroke-linecap="round" stroke-linejoin="round"/><path d="M826.6,770.0 L846.5,773.3 L866.5,780.0 L873.2,800.0 L876.5,823.3" fill="none" stroke="rgb(186,186,186)" stroke-width="21" stroke-linecap="round" stroke-linejoin="round"/><path d="M1130.0,600.0 L1150.0,575.0 L1175.0,563.0" fill="none" stroke="rgb(186,186,186)" stroke-width="12" stroke-linecap="round" stroke-linejoin="round"/><path d="M1080.0,612.0 L1110.0,615.0 L1140.0,622.0 L1170.0,630.0 L1186.0,625.0" fill="none" stroke="rgb(186,186,186)" stroke-width="21" stroke-linecap="round" stroke-linejoin="round"/><path d="M1186.0,610.0 L1205.0,605.0 L1233.0,610.0" fill="none" stroke="rgb(186,186,186)" stroke-width="18" stroke-linecap="round" stroke-linejoin="round"/><path d="M1225.0,603.0 L1250.0,595.0 L1272.0,586.0 L1302.0,582.0 L1332.0,580.0 L1346.0,585.0" fill="none" stroke="rgb(186,186,186)" stroke-width="18" stroke-linecap="round" stroke-linejoin="round"/><path d="M1015.0,640.0 L1040.0,660.0 L1065.0,680.0 L1090.0,693.0 L1120.0,695.0 L1150.0,685.0 L1180.0,675.0 L1210.0,667.0 L1230.0,675.0" fill="none" stroke="rgb(186,186,186)" stroke-width="21" stroke-linecap="round" stroke-linejoin="round"/><path d="M1216.0,725.0 L1220.0,745.0 L1222.0,770.0" fill="none" stroke="rgb(186,186,186)" stroke-width="13" stroke-linecap="round" stroke-linejoin="round"/><path d="M1209.0,820.0 L1222.0,836.0 L1240.0,834.0 L1248.0,820.0" fill="none" stroke="rgb(186,186,186)" stroke-width="12" stroke-linecap="round" stroke-linejoin="round"/><path d="M1218.0,728.0 L1226.0,738.0" fill="none" stroke="rgb(186,186,186)" stroke-width="8" stroke-linecap="round" stroke-linejoin="round"/><path d="M1097.0,680.0 L1115.0,672.0 L1139.0,664.0" fill="none" stroke="rgb(186,186,186)" stroke-width="10" stroke-linecap="round" stroke-linejoin="round"/><path d="M1246.0,660.0 L1258.0,656.0" fill="none" stroke="rgb(186,186,186)" stroke-width="7" stroke-linecap="round" stroke-linejoin="round"/><path d="M962.0,742.0 L975.0,737.0 L990.0,740.0" fill="none" stroke="rgb(186,186,186)" stroke-width="12" stroke-linecap="round" stroke-linejoin="round"/><path d="M1015.0,728.0 L1030.0,738.0 L1045.0,748.0 L1055.0,755.0" fill="none" stroke="rgb(186,186,186)" stroke-width="12" stroke-linecap="round" stroke-linejoin="round"/><path d="M1127.0,562.0 L1170.0,556.0 L1220.0,550.0 L1258.0,546.0" fill="none" stroke="rgb(186,186,186)" stroke-width="10" stroke-linecap="round" stroke-linejoin="round"/><path d="M1248.0,560.0 L1265.0,548.0" fill="none" stroke="rgb(186,186,186)" stroke-width="9" stroke-linecap="round" stroke-linejoin="round"/><path d="M1245.0,556.0 L1265.0,528.0 L1285.0,508.0 L1310.0,484.0" fill="none" stroke="rgb(186,186,186)" stroke-width="10" stroke-linecap="round" stroke-linejoin="round"/><path d="M1170.0,558.0 L1185.0,542.0 L1200.0,528.0 L1222.0,516.0" fill="none" stroke="rgb(186,186,186)" stroke-width="11" stroke-linecap="round" stroke-linejoin="round"/><ellipse cx="905" cy="625" rx="6" ry="5" fill="none" stroke="rgb(186,186,186)" stroke-width="4"/><ellipse cx="853.2" cy="680" rx="30" ry="17" fill="none" stroke="rgb(186,186,186)" stroke-width="8"/><ellipse cx="1100" cy="690" rx="14" ry="10" fill="none" stroke="rgb(186,186,186)" stroke-width="6"/><ellipse cx="984" cy="722" rx="6" ry="5" fill="none" stroke="rgb(186,186,186)" stroke-width="4"/></g>
 <g filter="url(#fd)"><rect x="0" y="0" width="2100" height="892" fill="#000"/><path d="M495.0,613.0 L505.0,618.0 L520.0,640.0 L530.0,655.0 L528.0,666.0 L515.0,660.0 L505.0,640.0 L495.0,625.0Z" fill="rgb(204,204,204)"/><path d="M535.0,645.0 L560.0,637.0 L585.0,645.0 L583.0,660.0 L560.0,668.0 L540.0,675.0 L532.0,660.0Z" fill="rgb(204,204,204)"/><path d="M433.0,540.0 L440.0,537.0 L455.0,570.0 L458.0,588.0 L450.0,585.0 L440.0,560.0Z" fill="rgb(158,158,158)"/></g>
</g>
<g stroke-linecap="round"><circle cx="1191.9" cy="878.5" r="2" fill="#e8ef15"/><circle cx="1208.3" cy="879.3" r="2" fill="#e56f00"/>
<path d="M1215,880 L1222,877.5" stroke="#7cad72" stroke-width="2.6"/><path d="M1220,878 L1228,875" stroke="#e56f00" stroke-width="3.2"/><path d="M1227,876 L1234,874" stroke="#b5d143" stroke-width="2.4"/>
<path d="M1236,873 L1248.6,856" stroke="#1f74d0" stroke-width="2"/>
<ellipse cx="414" cy="630" rx="6" ry="1.6" fill="#1f74d0"/><circle cx="420" cy="650" r="1.3" fill="#1f74d0"/><ellipse cx="443" cy="651" rx="1.5" ry="4" fill="#1f74d0" transform="rotate(-20 443 651)"/></g>
<path d="M351.6,235.7 L933.6,235.7 L933.6,225.7 L940.4,225.7 L943.1,239.7 L957.9,243.6 L970.5,246.2 L980.0,244.9 L985.3,248.9 L993.7,250.2 L997.9,252.8 L1012.7,260.7 L1025.3,256.7 L1042.2,259.4 L1050.6,262.0 L1035.3,268.6 L1014.8,283.0 L997.9,294.3 L1000.0,295.7 L1012.7,292.2 L1025.3,289.6 L1023.2,298.8 L1033.4,299.6 L1044.3,294.9 L1057.0,291.7 L1071.7,288.3 L1080.2,279.1 L1090.7,275.9 L1084.4,284.4 L1075.9,289.6 L1075.9,294.9 L1086.5,292.2 L1097.0,300.9 L1112.8,303.6 L1127.0,297.0 L1147.6,294.9 L1148.7,302.2 L1161.3,301.4 L1166.6,308.0 L1177.1,312.0 L1168.7,315.9 L1158.2,315.9 L1153.3,318.0 L1145.5,314.6 L1137.1,312.0 L1126.5,315.9 L1121.3,315.9 L1113.9,318.5 L1104.4,321.2 L1099.1,326.4 L1092.8,338.3 L1087.5,347.5 L1084.4,353.5 L1090.7,346.2 L1101.2,338.3 L1106.5,333.5 L1099.1,344.8 L1094.9,354.0 L1093.9,359.3 L1090.7,373.8 L1086.9,392.2 L1088.6,406.6 L1092.8,423.7 L1094.5,427.7 L1101.2,429.5 L1109.2,426.1 L1116.0,417.2 L1120.8,409.3 L1122.3,398.7 L1119.6,387.4 L1116.0,376.4 L1117.0,368.5 L1121.3,354.0 L1125.5,343.5 L1135.0,335.6 L1137.1,346.2 L1139.2,339.6 L1145.5,337.0 L1148.7,331.2 L1146.6,326.4 L1153.3,320.4 L1158.8,323.8 L1170.8,329.1 L1180.7,339.3 L1183.5,348.8 L1179.2,360.6 L1170.8,368.5 L1170.8,377.7 L1179.2,369.8 L1189.8,365.9 L1197.2,372.5 L1202.0,393.5 L1200.3,404.0 L1191.9,408.0 L1188.7,411.1 L1186.6,418.5 L1180.3,426.9 L1189.8,431.6 L1196.1,434.2 L1206.6,434.2 L1217.2,432.9 L1227.7,426.4 L1236.2,422.4 L1242.1,420.3 L1250.9,415.8 L1258.1,412.7 L1267.8,406.6 L1276.2,396.6 L1272.8,386.7 L1284.6,384.3 L1303.6,386.9 L1317.3,386.1 L1326.8,381.4 L1333.1,379.0 L1333.1,369.8 L1331.0,361.9 L1341.6,354.0 L1352.1,344.8 L1364.7,340.9 L1432.2,340.6 L1433.1,334.6 L1447.2,329.6 L1454.3,320.4 L1456.2,310.1 L1462.4,295.9 L1480.3,274.9 L1484.5,282.0 L1500.7,278.0 L1509.8,285.9 L1510.8,322.5 L1518.9,326.4 L1519.7,334.6 L1527.1,345.6 L1520.7,349.8 L1514.4,352.7 L1506.6,354.8 L1497.6,356.1 L1488.5,353.8 L1484.5,358.8 L1479.6,361.9 L1474.6,366.9 L1468.0,369.8 L1462.4,373.0 L1457.5,377.7 L1453.3,383.0 L1448.7,391.6 L1447.0,396.9 L1451.2,402.7 L1443.8,408.0 L1442.7,411.9 L1445.9,413.2 L1450.1,419.8 L1453.3,425.6 L1461.7,425.6 L1462.8,421.1 L1459.6,417.9 L1462.8,418.5 L1464.9,422.4 L1464.9,428.5 L1457.5,429.5 L1450.1,431.6 L1450.1,432.1 L1444.9,429.8 L1440.2,432.9 L1436.4,433.7 L1434.3,430.3 L1432.6,436.6 L1424.6,437.9 L1419.6,438.2 L1402.7,439.5 L1392.2,443.5 L1386.9,446.1 L1383.7,450.0 L1379.5,454.0 L1374.2,459.2 L1379.5,460.0 L1379.5,467.1 L1377.4,478.7 L1370.7,489.2 L1362.6,498.7 L1359.3,500.5 L1360.5,493.4 L1352.1,488.2 L1347.9,482.9 L1345.8,479.0 L1346.8,485.5 L1350.0,492.1 L1356.3,503.9 L1357.4,513.1 L1356.7,516.3 L1350.4,526.8 L1343.7,538.1 L1338.0,548.1 L1337.3,553.1 L1337.8,555.2 L1340.1,563.1 L1343.7,576.0 L1346.8,582.8 L1347.3,598.1 L1337.3,602.6 L1326.2,614.4 L1314.2,613.1 L1305.7,618.3 L1299.4,624.9 L1296.0,634.4 L1283.8,634.1 L1277.3,638.1 L1270.9,647.3 L1263.6,656.5 L1256.2,663.0 L1244.6,669.6 L1238.3,677.5 L1234.5,682.0 L1229.8,690.6 L1223.5,705.1 L1222.5,716.9 L1223.5,724.8 L1226.0,738.0 L1231.9,756.4 L1238.3,766.9 L1241.8,775.8 L1240.4,785.3 L1246.7,802.4 L1251.5,815.6 L1252.4,822.1 L1250.9,837.9 L1250.3,846.6 L1246.7,856.3 L1242.5,861.6 L1230.3,863.7 L1227.7,856.3 L1215.1,836.9 L1211.9,828.7 L1204.5,816.9 L1199.3,806.4 L1196.1,798.5 L1199.3,790.6 L1194.8,784.0 L1196.1,769.5 L1189.1,758.2 L1181.3,745.9 L1175.0,738.0 L1164.9,733.2 L1158.2,736.7 L1148.0,742.7 L1140.2,744.0 L1139.2,738.0 L1132.9,731.4 L1116.0,725.1 L1101.2,726.1 L1094.9,728.0 L1090.7,728.8 L1084.4,728.8 L1085.4,718.3 L1082.3,724.8 L1075.9,725.4 L1073.8,726.1 L1063.3,724.8 L1050.6,730.1 L1046.4,732.7 L1054.9,740.6 L1055.9,753.8 L1059.1,762.2 L1050.6,755.1 L1042.2,755.3 L1038.0,759.0 L1021.1,756.4 L1012.7,748.5 L993.7,747.2 L972.6,741.9 L961.0,743.2 L947.3,745.1 L941.0,748.0 L922.0,758.5 L908.1,772.2 L902.2,777.4 L889.0,790.6 L884.1,798.5 L883.5,814.2 L887.9,837.9 L889.6,841.6 L884.1,842.6 L869.3,837.9 L856.7,830.5 L849.1,825.8 L841.9,801.1 L829.3,782.7 L820.9,769.3 L812.4,752.2 L801.9,741.4 L782.9,738.5 L774.5,741.9 L763.9,762.4 L753.4,756.4 L739.3,746.9 L732.3,735.4 L726.0,718.3 L713.3,706.4 L700.7,697.2 L693.7,688.5 L658.3,688.5 L658.3,700.4 L598.0,700.4 L519.2,669.9 L521.1,663.8 L470.5,668.8 L467.8,660.4 L466.7,653.8 L458.3,644.4 L451.9,639.4 L447.7,636.7 L443.5,636.7 L441.4,630.2 L429.6,628.1 L416.1,619.6 L399.9,618.3 L396.1,606.5 L391.9,594.7 L382.8,586.2 L369.7,569.7 L369.7,561.8 L371.8,556.5 L367.2,552.3 L359.2,546.0 L357.1,538.1 L357.5,530.0 L350.8,527.6 L346.1,525.0 L344.4,517.1 L330.9,500.0 L329.7,485.5 L328.6,477.6 L323.3,469.8 L316.8,460.8 L321.2,451.3 L323.3,440.8 L321.2,426.4 L321.0,419.8 L317.0,406.6 L313.7,397.7 L317.0,385.6 L321.2,372.5 L323.3,351.4 L325.5,327.7 L326.5,314.6 L324.4,308.0 L323.3,290.9 L321.2,280.4 L314.9,267.3 L310.1,257.5 L310.3,252.0 L319.1,255.2 L323.3,256.7 L337.5,258.8 L344.4,258.1 L351.6,258.8 L355.0,264.6 L357.1,272.5 L355.0,280.4 L348.6,287.0 L358.1,281.7 L360.2,272.5 L361.3,264.6 L357.1,254.1 L355.0,242.3Z M1372.0,455.0 L1383.0,447.0 L1423.0,440.0 L1424.0,445.0 L1383.0,458.0 L1372.0,458.0Z" fill="none" stroke="#000" stroke-width="4.2" stroke-linejoin="round"/>
<path d="M1323.0,574.0 L1327.0,573.0 L1329.0,580.0 L1325.0,584.0 L1322.0,580.0Z" fill="#000"/><path d="M1336.0,579.0 L1340.0,578.0 L1342.0,586.0 L1338.0,590.0 L1335.0,586.0Z" fill="#000"/><path d="M1319.0,597.0 L1324.0,595.0 L1327.0,601.0 L1322.0,605.0 L1318.0,602.0Z" fill="#000"/><path d="M1445.0,433.0 L1451.0,432.0 L1454.0,436.0 L1450.0,439.0 L1446.0,438.0Z" fill="#000"/><path d="M1458.0,436.0 L1464.0,435.0 L1466.0,440.0 L1461.0,442.0 L1457.0,440.0Z" fill="#000"/><path d="M325.0,288.0 L331.0,286.0 L333.0,293.0 L327.0,295.0Z" fill="#000"/><path d="M324.0,300.0 L329.0,299.0 L330.0,306.0 L325.0,307.0Z" fill="#000"/><path d="M1193.0,790.0 L1199.0,787.0 L1203.0,793.0 L1200.0,799.0 L1194.0,797.0Z" fill="#000"/><path d="M1203.0,815.0 L1209.0,814.0 L1212.0,820.0 L1206.0,822.0Z" fill="#000"/><path d="M1227.0,860.0 L1233.0,858.0 L1236.0,865.0 L1229.0,867.0Z" fill="#000"/><path d="M901.0,771.0 L907.0,768.0 L912.0,774.0 L906.0,778.0Z" fill="#000"/><path d="M880.0,791.0 L886.0,789.0 L889.0,796.0 L883.0,798.0Z" fill="#000"/><path d="M876.0,804.0 L881.0,803.0 L884.0,810.0 L878.0,811.0Z" fill="#000"/><path d="M935.0,742.0 L941.0,739.0 L944.0,746.0 L938.0,749.0Z" fill="#000"/><path d="M350.0,236.0 L357.0,238.0 L360.0,245.0 L362.0,255.0 L364.0,262.0 L362.0,275.0 L360.0,282.0 L354.0,289.0 L347.0,288.0 L344.0,280.0 L348.0,270.0 L352.0,262.0 L350.0,255.0 L343.0,250.0 L343.0,244.0 L348.0,241.0Z" fill="#000"/>
<path d="M1036.0,727.0 L1042.0,725.0 L1049.0,729.0 L1047.0,736.0 L1040.0,737.0 L1035.0,732.0 L1036.0,727.0" fill="none" stroke="#000" stroke-width="4" stroke-linecap="round" stroke-linejoin="round"/><path d="M1049.0,735.0 L1057.0,745.0 L1062.0,760.0" fill="none" stroke="#000" stroke-width="4" stroke-linecap="round" stroke-linejoin="round"/><path d="M1055.0,746.0 L1064.0,741.0" fill="none" stroke="#000" stroke-width="4" stroke-linecap="round" stroke-linejoin="round"/><path d="M1344.0,479.0 L1335.0,486.0 L1329.5,495.0 L1326.0,510.0 L1322.0,517.0 L1317.0,524.0 L1319.0,535.0 L1317.0,546.0 L1326.0,551.0 L1335.0,553.0" fill="none" stroke="#000" stroke-width="5" stroke-linecap="round" stroke-linejoin="round"/><path d="M1342.0,479.0 L1337.0,488.0 L1335.0,506.0 L1340.0,520.0 L1337.0,531.0 L1338.0,546.0 L1336.0,553.0" fill="none" stroke="#000" stroke-width="4" stroke-linecap="round" stroke-linejoin="round"/><path d="M1303.0,506.0 L1327.0,521.0" fill="none" stroke="#000" stroke-width="4" stroke-linecap="round" stroke-linejoin="round"/><path d="M1309.0,523.0 L1328.0,534.0" fill="none" stroke="#000" stroke-width="4" stroke-linecap="round" stroke-linejoin="round"/><path d="M1311.0,538.0 L1331.0,549.0" fill="none" stroke="#000" stroke-width="4" stroke-linecap="round" stroke-linejoin="round"/>
<path d="M324.4,308.0 L331.8,308.0 L338.1,309.3 L347.6,312.0 L350.8,318.5 L351.8,323.8 L361.3,326.4 L369.7,323.8 L384.5,325.1 L395.0,322.5 L405.6,322.0 L418.2,317.2 L424.5,316.4 L431.3,314.6 L474.7,314.6 M474.7,314.6 L472.2,303.6 L472.2,235.7 M474.7,314.6 L479.3,327.7 L477.2,338.3 L473.0,347.5 L468.8,355.4 L473.0,360.6 L475.1,365.9 L472.4,372.5 L472.4,419.8 M321.0,419.8 L598.5,419.8 M409.8,419.8 L409.8,498.7 L523.0,603.9 M535.4,419.8 L535.4,551.3 L535.2,573.6 L533.1,576.3 L523.6,580.2 L521.5,590.7 L523.0,603.9 L523.6,609.1 L527.8,618.3 L533.5,622.3 L525.7,632.8 L523.6,645.9 L521.1,656.5 L521.1,663.8 M493.0,235.7 L493.0,262.5 L500.4,275.2 L508.9,281.7 L516.2,289.6 L523.6,298.0 L526.8,309.3 L525.7,325.1 L537.5,322.8 L546.8,333.0 L553.1,346.2 L560.5,355.4 L572.1,352.5 L582.6,354.0 L591.1,351.4 L598.5,354.0 M598.5,340.9 L598.5,446.1 L788.2,446.1 L788.2,551.3 M598.5,340.9 L746.0,340.9 M746.0,235.7 L746.0,446.1 M640.6,446.1 L640.6,700.4 M535.2,551.3 L944.8,551.3 M768.2,551.3 L768.2,564.4 L767.3,682.8 L691.8,682.8 L693.7,688.5 M768.2,564.4 L831.4,564.4 L831.4,615.4 L844.0,619.6 L854.6,624.9 L871.5,627.5 L886.2,634.1 L903.1,637.3 L915.7,632.8 L925.2,633.3 L934.7,633.3 L947.8,639.6 M944.8,551.3 L944.8,564.4 L948.8,593.3 L947.8,639.6 L957.0,642.0 L957.0,682.8 L963.2,695.9 L967.4,709.1 L964.2,722.2 L963.8,735.4 L961.0,743.2 M957.0,655.9 L1017.5,656.5 M1035.9,603.9 L1029.6,614.4 L1021.1,630.2 L1017.5,656.5 L1023.7,673.6 L1012.7,694.3 L1007.8,709.1 L1047.9,709.1 L1047.5,719.6 L1050.6,730.6 M1080.2,603.9 L1082.3,606.5 L1074.5,685.4 L1075.9,724.8 M1135.0,603.9 L1143.8,659.9 L1148.0,670.4 L1144.5,685.4 L1147.6,709.1 L1092.8,709.1 L1094.9,728.0 M1147.6,709.1 L1150.6,716.7 L1189.8,720.1 L1206.6,720.4 L1210.9,724.8 L1211.9,715.6 L1222.5,716.9 M1234.5,682.0 L1229.8,680.7 L1223.5,667.0 L1211.5,644.1 L1202.4,632.8 L1191.9,621.0 L1183.5,611.8 L1187.7,603.9 M1187.7,603.9 L1035.9,603.9 M1283.8,634.1 L1260.0,609.1 L1236.2,608.6 L1233.4,599.9 L1231.1,599.9 L1204.5,598.6 L1187.7,603.9 M1162.0,603.9 L1168.7,596.0 L1179.2,589.4 L1191.9,578.9 L1202.4,574.9 L1213.0,569.7 L1217.6,562.3 M1340.1,563.1 L1217.6,562.3 L1175.4,561.8 L1082.9,559.9 L1082.9,564.4 L1052.8,564.4 L1054.9,559.2 L1060.6,551.8 M1052.8,564.4 L1048.5,577.6 L1044.3,588.1 L1041.2,599.9 L1035.9,603.9 M944.8,564.4 L1039.0,564.4 L1034.4,577.6 L1048.5,577.6 M1175.4,561.8 L1189.8,555.2 L1204.5,544.7 L1211.5,537.1 L1204.5,530.2 L1198.2,520.5 L1198.2,513.9 L1189.8,506.6 L1183.5,509.2 L1176.1,508.4 L1168.7,505.3 L1162.4,500.0 L1151.4,496.0 L1147.6,503.9 L1141.3,505.3 L1131.8,518.4 L1126.5,523.7 L1116.0,526.3 L1104.4,530.2 L1092.8,527.6 L1083.7,530.2 L1082.3,538.1 L1071.7,549.2 L1060.6,551.8 M1060.6,551.8 L1052.8,543.4 L1043.3,527.6 L1038.0,509.2 L1039.7,503.9 L1032.7,499.5 L1027.5,493.4 L1020.1,486.8 L1013.5,480.3 L1011.6,473.7 L1012.3,462.4 L1019.0,451.3 L1020.1,435.0 L1030.0,432.4 L1038.2,424.0 L1028.3,406.6 L1018.0,392.2 L1015.9,372.5 L1007.4,365.9 L995.8,354.0 L983.2,347.5 L986.3,330.4 L993.7,315.9 L993.7,306.7 L997.9,294.9 M920.6,457.1 L1006.0,456.6 L1012.3,462.4 M906.2,380.3 L1016.5,380.3 M920.6,457.1 L917.2,439.2 L913.6,431.6 L911.5,421.1 L906.7,406.9 L903.1,398.7 L906.2,380.3 L906.2,333.0 L903.9,316.2 L903.1,306.7 L899.9,296.2 L897.8,283.0 L896.8,269.9 L892.5,262.0 L891.5,248.9 L889.4,241.0 L889.8,235.7 M920.6,457.1 L930.3,472.4 L788.2,472.4 M930.3,472.4 L938.9,484.2 L945.2,495.5 L944.8,551.3 M746.0,393.5 L863.0,393.5 L882.0,397.4 L894.6,399.5 L906.7,406.9 M746.0,316.2 L903.9,316.2 M1028.3,406.6 L1088.6,406.6 M1083.7,530.2 L1089.6,514.5 L1094.9,506.6 L1094.3,489.5 L1094.3,427.7 M1151.4,496.0 L1151.8,427.7 M1109.2,426.1 L1151.8,427.7 L1180.3,426.9 M1198.2,513.9 L1206.6,503.9 L1215.9,500.0 L1220.1,491.6 L1222.5,487.6 L1232.1,484.0 L1237.4,474.5 L1237.8,470.8 L1240.2,462.7 L1242.1,455.8 L1242.1,420.3 M1242.1,455.8 L1242.1,479.7 L1342.0,479.7 M1264.0,479.7 L1264.0,493.4 L1279.2,481.6 L1291.4,480.3 L1299.0,482.9 L1301.1,490.3 M1301.1,490.3 L1298.8,495.3 L1287.8,486.8 L1283.6,497.4 L1276.2,503.9 L1267.8,513.1 L1258.3,522.3 L1248.8,531.5 L1244.6,539.4 L1235.1,542.1 L1227.7,544.7 L1217.2,546.0 L1211.5,537.1 M1301.1,490.3 L1304.9,491.6 L1311.0,498.7 L1315.2,501.3 L1315.4,503.9 L1309.9,511.8 L1316.7,515.5 L1317.3,519.7 L1330.6,523.9 M1353.4,524.2 L1342.6,526.3 M1357.4,513.1 L1343.7,513.1 L1342.0,479.7 M1346.8,477.1 L1355.7,473.7 L1363.7,467.1 L1357.4,459.2 L1354.2,456.6 L1356.3,446.1 L1364.7,436.6 L1381.6,446.1 L1379.5,454.0 M1258.1,412.7 L1258.1,419.8 L1350.8,419.8 L1356.3,425.0 L1364.7,436.6 M1393.2,340.6 L1393.2,354.0 L1392.2,367.2 L1394.3,377.7 L1395.3,377.7 L1395.1,400.1 L1390.0,418.5 L1390.3,443.5 L1386.9,446.1 M1432.2,340.6 L1430.1,354.0 L1420.6,367.2 L1413.2,380.3 L1412.0,400.6 M1395.1,400.1 L1436.4,401.4 L1442.7,397.4 L1447.0,396.9 M1441.1,333.0 L1443.0,354.0 L1442.7,380.3 L1443.2,385.6 L1449.1,391.6 M1390.0,418.5 L1425.9,419.3 L1434.7,419.3 L1434.7,422.4 L1440.2,432.9 M1425.9,419.3 L1425.9,438.2 M1033.4,299.6 L1038.0,308.0 L1061.2,310.7 L1080.2,315.9 L1087.5,321.2 L1088.6,330.4 L1092.8,338.3" fill="none" stroke="#000" stroke-width="3.9" stroke-linejoin="round" stroke-linecap="round"/>
</svg>
<div class="lh">Relative pop. size</div>
<div style="position:absolute;left:1571px;top:417.0px;width:25px;height:25.5px;background:#4d4d4d"></div><div class="lt" style="top:417.0px">excl.-severe</div><div style="position:absolute;left:1571px;top:442.5px;width:25px;height:25.5px;background:#b3b3b3"></div><div class="lt" style="top:442.5px">excl.-moderate</div><div style="position:absolute;left:1571px;top:468.0px;width:25px;height:25.5px;background:#1f74d0"></div><div class="lt" style="top:468.0px">0-10</div><div style="position:absolute;left:1571px;top:493.5px;width:25px;height:25.5px;background:#468c9a"></div><div class="lt" style="top:493.5px">10-20</div><div style="position:absolute;left:1571px;top:519.0px;width:25px;height:25.5px;background:#7cad72"></div><div class="lt" style="top:519.0px">20-30</div><div style="position:absolute;left:1571px;top:544.5px;width:25px;height:25.5px;background:#b5d143"></div><div class="lt" style="top:544.5px">30-40</div><div style="position:absolute;left:1571px;top:570.0px;width:25px;height:25.5px;background:#e8ef15"></div><div class="lt" style="top:570.0px">40-50</div><div style="position:absolute;left:1571px;top:595.5px;width:25px;height:25.5px;background:#fde200"></div><div class="lt" style="top:595.5px">50-60</div><div style="position:absolute;left:1571px;top:621.0px;width:25px;height:25.5px;background:#f0a900"></div><div class="lt" style="top:621.0px">60-70</div><div style="position:absolute;left:1571px;top:646.5px;width:25px;height:25.5px;background:#e56f00"></div><div class="lt" style="top:646.5px">70-80</div><div style="position:absolute;left:1571px;top:672.0px;width:25px;height:25.5px;background:#dc3800"></div><div class="lt" style="top:672.0px">80-90</div><div style="position:absolute;left:1571px;top:697.5px;width:25px;height:25.5px;background:#cc0000"></div><div class="lt" style="top:697.5px">90-100</div>
</body></html>
